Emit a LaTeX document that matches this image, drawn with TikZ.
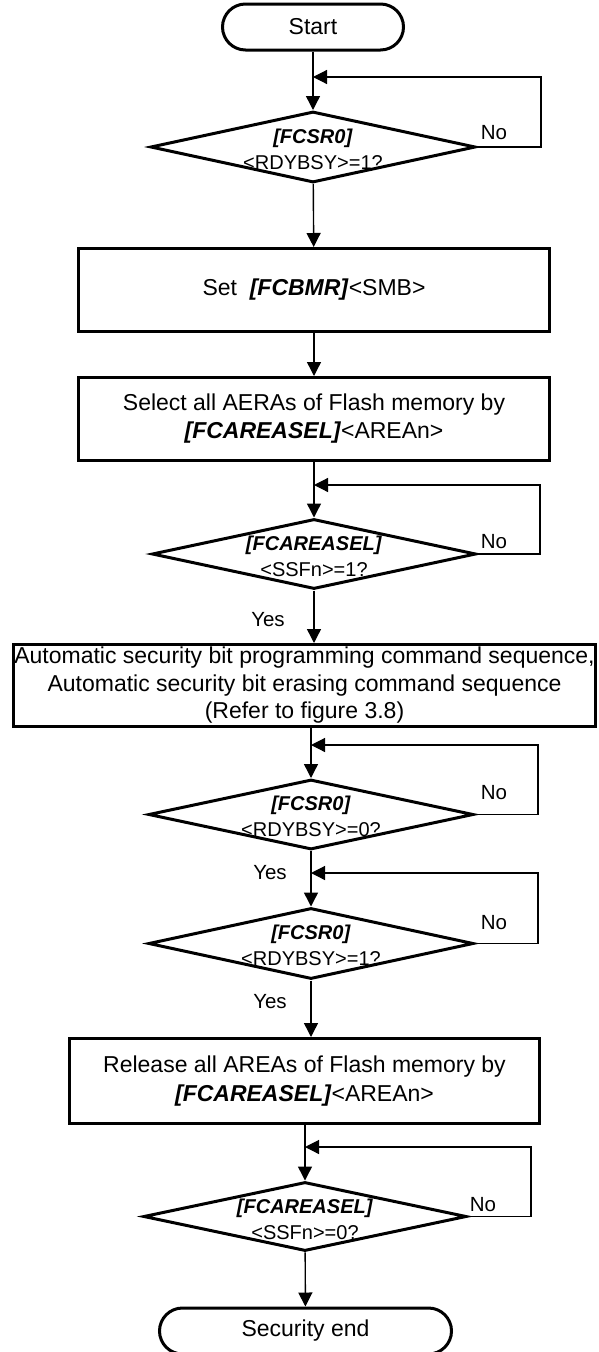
\documentclass[tikz,border=0pt]{standalone}
\usepackage{fontspec}
\setmainfont{Liberation Sans}
\usetikzlibrary{shapes.geometric,arrows.meta}
\newcommand\fsbox{\fontsize{23}{28}\selectfont}
\newcommand\fsdia{\fontsize{20}{26}\selectfont}
\newcommand\fslbl{\fontsize{20.5}{24}\selectfont}
\newcommand\reg[1]{\textbf{\textit{#1}}}
\tikzset{
  term/.style={draw, line width=3pt, rounded corners=23pt, minimum height=46pt, inner sep=0pt, font=\fsbox},
  proc/.style={draw, line width=3pt, inner sep=0pt, align=center, font=\fsbox},
  dec/.style={draw, diamond, line width=3pt, inner sep=0pt},
  dectxt/.style={align=center, font=\fsdia, inner sep=0pt},
  conn/.style={line width=1.4pt, -{Triangle[length=14pt,width=14pt]}},
  loopl/.style={line width=1.2pt, -{Triangle[length=14pt,width=14pt]}},
  lbl/.style={font=\fslbl, inner sep=0pt}
}
\begin{document}
\begin{tikzpicture}[x=1pt,y=-1pt]
\useasboundingbox (0,0) rectangle (598,1352);
% nodes
\node[term, minimum width=181pt] (start) at (313,27) {Start};
\coordinate (j1) at (313,77);
\coordinate (r1) at (541,77);
\node[dec, minimum width=325pt, minimum height=71pt] (d1) at (313,147) {};
\node[dectxt] (d1t) at (313,149) {\reg{[FCSR0]}\\<RDYBSY>=1?};
\node[lbl] (n1) at (494,133) {No};

\node[proc, minimum width=471pt, minimum height=83pt] (b1) at (314,290) {Set\ \ \reg{[FCBMR]}<SMB>};
\node[proc, minimum width=471pt, minimum height=83pt] (b2) at (314,419) {Select all AERAs of Flash memory by\\\reg{[FCAREASEL]}<AREAn>};

\coordinate (j2) at (314,485);
\coordinate (r2) at (540,485);
\node[dec, minimum width=324pt, minimum height=70pt] (d2) at (314,554) {};
\node[dectxt] (d2t) at (314,556) {\reg{[FCAREASEL]}\\<SSFn>=1?};
\node[lbl] (n2) at (494,542) {No};
\node[lbl] (y2) at (268,620) {Yes};

\node[proc, minimum width=582pt, minimum height=82pt, font=\fontsize{23}{27.5}\selectfont] (b3) at (304.5,685.5) {Automatic security bit programming command sequence,\\Automatic security bit erasing command sequence\\(Refer to figure 3.8)};

\coordinate (j3) at (311,745);
\coordinate (r3) at (538,745);
\node[dec, minimum width=325pt, minimum height=70pt] (d3) at (311,814.5) {};
\node[dectxt] (d3t) at (311,816) {\reg{[FCSR0]}\\<RDYBSY>=0?};
\node[lbl] (n3) at (494,793) {No};
\node[lbl] (y3) at (270,873) {Yes};

\coordinate (j4) at (311,873);
\coordinate (r4) at (538,873);
\node[dec, minimum width=325pt, minimum height=71pt] (d4) at (311,943.5) {};
\node[dectxt] (d4t) at (311,945) {\reg{[FCSR0]}\\<RDYBSY>=1?};
\node[lbl] (n4) at (494,923) {No};
\node[lbl] (y4) at (270,1002) {Yes};

\node[proc, minimum width=470pt, minimum height=85pt, font=\fontsize{23}{29}\selectfont] (b5) at (304.5,1081) {Release all AREAs of Flash memory by\\\reg{[FCAREASEL]}<AREAn>};

\coordinate (j5) at (305,1147);
\coordinate (r5) at (531,1147);
\node[dec, minimum width=323pt, minimum height=69pt] (d5) at (305,1216.5) {};
\node[dectxt] (d5t) at (305,1219) {\reg{[FCAREASEL]}\\<SSFn>=0?};
\node[lbl] (n5) at (483,1205) {No};

\node[term, minimum width=292pt] (end) at (305.5,1331) {Security end};

% connectors
\draw[conn] (start) -- (d1);
\draw[loopl] (d1.east) -| (r1) -- (j1);
\draw[conn] (d1) -- (b1);
\draw[conn] (b1) -- (b2);
\draw[conn] (b2) -- (d2);
\draw[loopl] (d2.east) -| (r2) -- (j2);
\draw[conn] (d2.south) -- (d2.south |- b3.north);
\draw[conn] (b3.south -| d3.north) -- (d3.north);
\draw[loopl] (d3.east) -| (r3) -- (j3);
\draw[conn] (d3) -- (d4);
\draw[loopl] (d4.east) -| (r4) -- (j4);
\draw[conn] (d4.south) -- (d4.south |- b5.north);
\draw[conn] (b5.south -| d5.north) -- (d5.north);
\draw[loopl] (d5.east) -| (r5) -- (j5);
\draw[conn] (d5) -- (end);
\end{tikzpicture}
\end{document}
